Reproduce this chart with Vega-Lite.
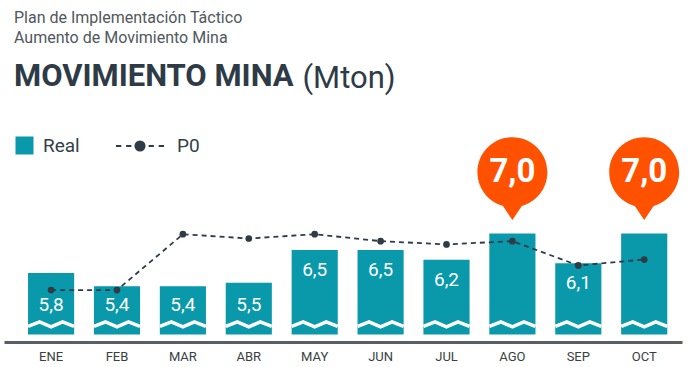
{
  "$schema": "https://vega.github.io/schema/vega-lite/v6.json",
  "width": 678,
  "height": 207,
  "padding": {"top": 10, "left": 4, "right": 8, "bottom": 0},
  "background": "white",
  "config": {"view": {"stroke": null}, "font": "Roboto"},
  "title": {
    "text": ["Plan de Implementación Táctico", "Aumento de Movimiento Mina"],
    "subtitle": "MOVIMIENTO MINA",
    "anchor": "start",
    "frame": "group",
    "dx": 10,
    "font": "Roboto",
    "fontSize": 16,
    "fontWeight": "normal",
    "color": "#50575d",
    "lineHeight": 20,
    "subtitleFont": "Roboto",
    "subtitleFontSize": 31,
    "subtitleFontWeight": "bold",
    "subtitleColor": "#2e3b46",
    "subtitlePadding": 16,
    "offset": -30
  },
  "data": {
    "values": [
      {"month": "ENE", "real": 5.8, "p0": 5.28},
      {"month": "FEB", "real": 5.4, "p0": 5.28},
      {"month": "MAR", "real": 5.4, "p0": 6.98},
      {"month": "ABR", "real": 5.5, "p0": 6.85},
      {"month": "MAY", "real": 6.5, "p0": 6.98},
      {"month": "JUN", "real": 6.5, "p0": 6.77},
      {"month": "JUL", "real": 6.2, "p0": 6.67},
      {"month": "AGO", "real": 7.0, "p0": 6.77},
      {"month": "SEP", "real": 6.1, "p0": 6.03},
      {"month": "OCT", "real": 7.0, "p0": 6.21}
    ]
  },
  "encoding": {
    "x": {
      "field": "month",
      "type": "nominal",
      "sort": null,
      "scale": {"paddingInner": 0.3, "paddingOuter": 0.294, "align": 0.62},
      "axis": {
        "title": null,
        "ticks": false,
        "labelAngle": 0,
        "labelFont": "Roboto",
        "labelFontSize": 13,
        "labelColor": "#3a3f44",
        "labelPadding": 8,
        "domainColor": "#585e64",
        "domainWidth": 3
      }
    }
  },
  "layer": [
    {
      "mark": {"type": "bar", "cornerRadius": 0},
      "encoding": {
        "y": {
          "field": "real",
          "type": "quantitative",
          "scale": {"domain": [3.7, 10.0], "nice": false, "zero": false},
          "axis": {
            "orient": "left",
            "domain": false,
            "ticks": false,
            "labels": false,
            "grid": false,
            "minExtent": 0,
            "title": "(Mton)",
            "titleAngle": 0,
            "titleX": 298,
            "titleY": -48,
            "titleAlign": "left",
            "titleBaseline": "alphabetic",
            "titleFont": "Roboto",
            "titleFontSize": 31,
            "titleFontWeight": "normal",
            "titleColor": "#2e3b46",
            "titlePadding": 0
          }
        },
        "y2": {"datum": 3.93},
        "fill": {
          "datum": "Real",
          "scale": {"range": ["#0a99aa"]},
          "legend": {
            "orient": "none",
            "legendX": 11,
            "legendY": 1,
            "title": null,
            "symbolType": "square",
            "symbolSize": 324,
            "symbolStrokeWidth": 0,
            "labelFont": "Roboto",
            "labelFontSize": 19,
            "labelColor": "#333f48",
            "labelOffset": 9
          }
        }
      }
    },
    {
      "mark": {"type": "point", "filled": false, "stroke": "white", "strokeWidth": 3.5, "opacity": 1, "size": 2116,
        "shape": "M-1,0.08L-0.5,-0.12L0,0.1L0.5,-0.12L1,0.08"},
      "encoding": {"y": {"datum": 4.23}}
    },
    {
      "mark": {"type": "line", "strokeDash": [5, 4], "strokeWidth": 1.8},
      "encoding": {
        "y": {"field": "p0", "type": "quantitative"},
        "stroke": {
          "datum": "P0",
          "scale": {"range": ["#2f3c47"]},
          "legend": {
            "orient": "none",
            "legendX": 111,
            "legendY": -14,
            "title": null,
            "symbolType": "M-1,0H-0.78M-0.58,0H-0.36M0.36,0H0.58M0.78,0H1M-0.19,0A0.19,0.19 0 1,1 0.19,0A0.19,0.19 0 1,1 -0.19,0Z",
            "symbolSize": 2304,
            "symbolStrokeWidth": 2,
            "symbolFillColor": "#2f3c47",
            "symbolStrokeColor": "#2f3c47",
            "labelFont": "Roboto",
            "labelFontSize": 19,
            "labelColor": "#333f48",
            "labelOffset": 12
          }
        }
      }
    },
    {
      "mark": {"type": "point", "filled": true, "color": "#2f3c47", "size": 45, "opacity": 1},
      "encoding": {"y": {"field": "p0", "type": "quantitative"}}
    },
    {
      "transform": [{"filter": "datum.real <= 5.8"}],
      "mark": {"type": "text", "color": "white", "fontSize": 19, "font": "Roboto", "baseline": "middle", "dy": 19},
      "encoding": {
        "y": {"datum": 5.4},
        "text": {"field": "real", "type": "quantitative", "format": ".1f"}
      }
    },
    {
      "transform": [{"filter": "datum.real > 5.8 && datum.real < 7"}],
      "mark": {"type": "text", "color": "white", "fontSize": 19, "font": "Roboto", "baseline": "middle", "dy": 20},
      "encoding": {
        "y": {"field": "real", "type": "quantitative"},
        "text": {"field": "real", "type": "quantitative", "format": ".1f"}
      }
    },
    {
      "transform": [{"filter": "datum.real >= 7"}],
      "mark": {"type": "point", "filled": true, "color": "#ff5100", "opacity": 1, "size": 6889, "yOffset": -55,
        "shape": "M-0.843,-0.152A0.843,0.843 0 1,1 0.843,-0.152A0.843,0.843 0 1,1 -0.843,-0.152ZM0.3,0.55L0,1L-0.3,0.55Z"},
      "encoding": {"y": {"field": "real", "type": "quantitative"}}
    },
    {
      "transform": [{"filter": "datum.real >= 7"}],
      "mark": {"type": "text", "color": "white", "fontSize": 33, "fontWeight": "bold", "font": "Roboto", "baseline": "middle", "yOffset": -62},
      "encoding": {
        "y": {"field": "real", "type": "quantitative"},
        "text": {"field": "real", "type": "quantitative", "format": ".1f"}
      }
    }
  ],
  "usermeta": {"embedOptions": {"formatLocale": {"decimal": ",", "thousands": ".", "grouping": [3], "currency": ["", " €"]}}}
}
